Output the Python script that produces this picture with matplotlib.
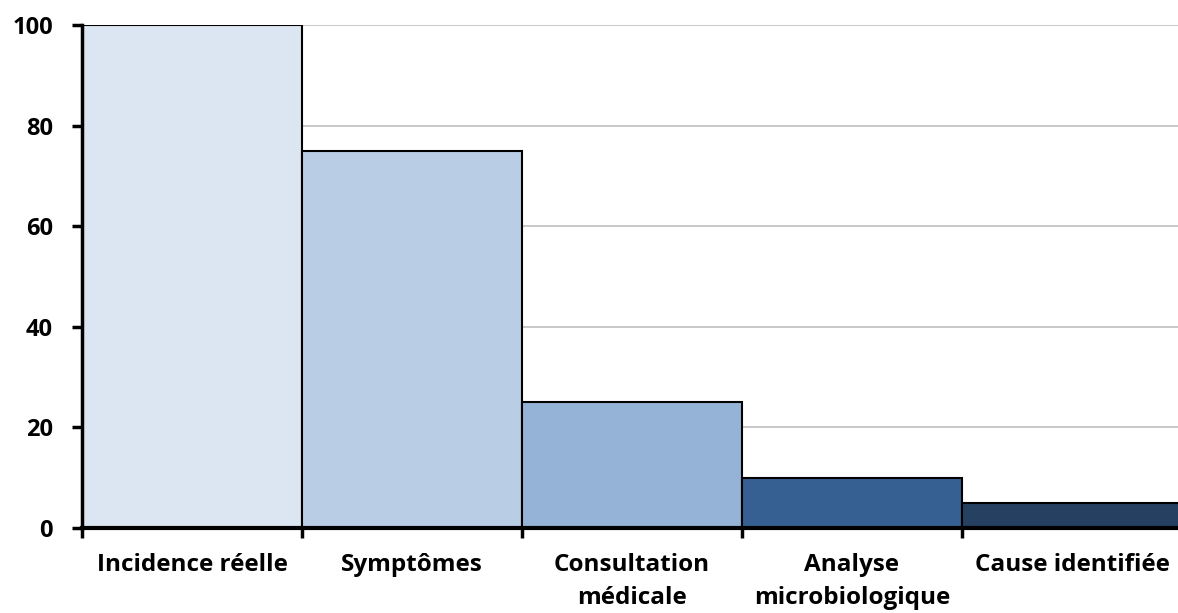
import numpy as np
import matplotlib.pyplot as plt

# stages of the surveillance pyramid and their relative size
stages = ["Incidence réelle", "Symptômes", "Consultation\nmédicale",
          "Analyse\nmicrobiologique", "Cause identifiée"]
values = [100, 75, 25, 10, 5]
colors = ["#DCE6F2", "#B9CDE5", "#95B3D7", "#376092", "#254061"]
yticks = [0, 20, 40, 60, 80, 100]

plt.rcParams["font.family"] = ["Open Sans", "DejaVu Sans"]

fig = plt.figure(figsize=(11.78, 6.13), dpi=100)
ax = fig.add_axes([82 / 1178, 85 / 613, 1100 / 1178, 503 / 613])

x = np.arange(len(stages))
ax.bar(x, values, width=1.0, color=colors, edgecolor="black", linewidth=1.5, zorder=3)

ax.set_xlim(-0.5, len(stages) - 0.5)
ax.set_ylim(0, 100)
ax.set_yticks(yticks)
ax.set_yticklabels([str(v) for v in yticks], fontsize=17, fontweight="bold")
ax.yaxis.grid(True, color="#BFBFBF", linewidth=1.2, zorder=0)
ax.set_axisbelow(True)

# category ticks sit on bar boundaries, labels at the bar centres
ax.set_xticks(np.arange(len(stages) + 1) - 0.5)
ax.set_xticklabels([])
ax.set_xticks(x, minor=True)
ax.set_xticklabels(stages, minor=True, fontsize=17.5, fontweight="bold",
                   va="top", linespacing=1.5)
ax.tick_params(axis="x", which="minor", length=0, pad=18)
ax.tick_params(axis="x", which="major", length=7, width=2.5, direction="out")
ax.tick_params(axis="y", length=7, width=2.5, direction="out", pad=14)

for side in ["top", "right"]:
    ax.spines[side].set_visible(False)
ax.spines["left"].set_linewidth(2.5)
ax.spines["bottom"].set_linewidth(3)
ax.spines["bottom"].set_zorder(4)
ax.spines["left"].set_zorder(4)

fig.savefig("out.png", dpi=100)
